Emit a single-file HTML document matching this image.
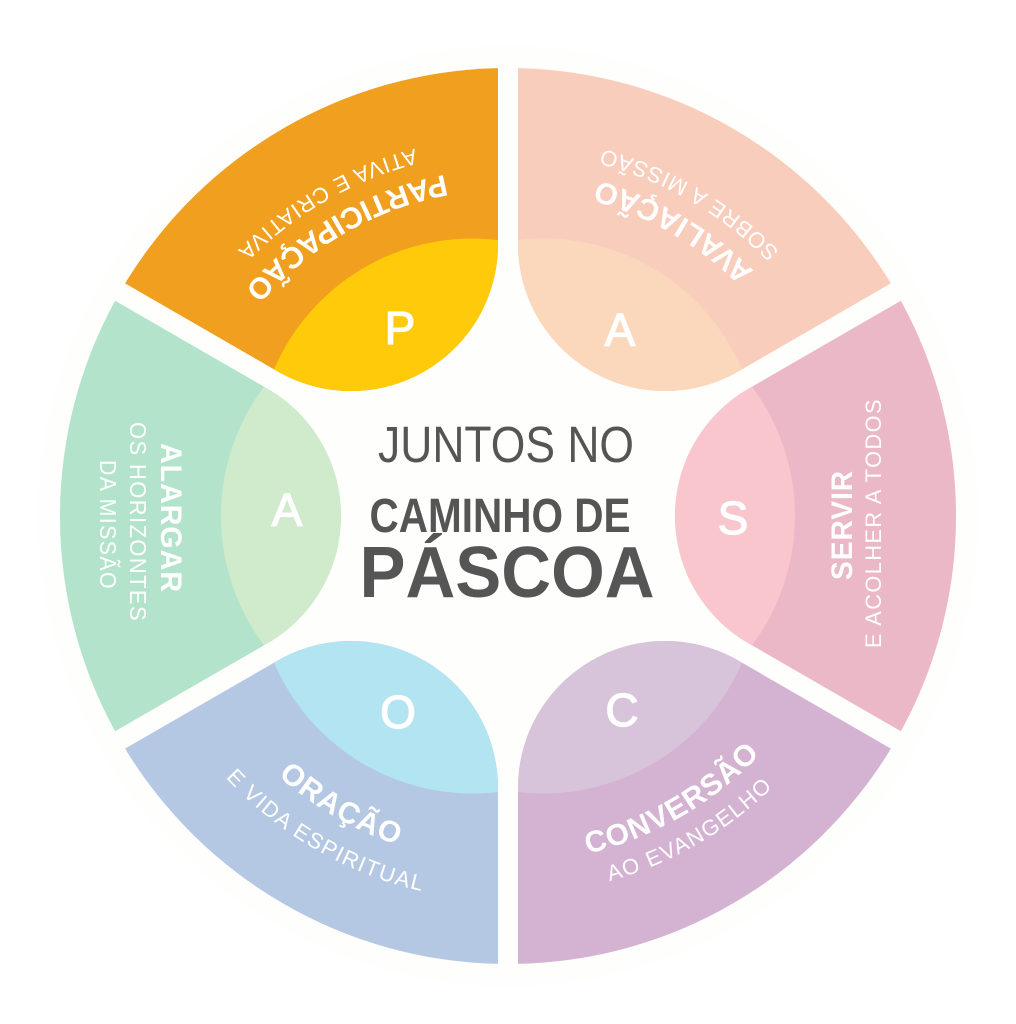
<!DOCTYPE html>
<html><head><meta charset="utf-8"><style>
html,body{margin:0;padding:0;background:#fff;}
svg{display:block;}
text{font-family:"Liberation Sans",sans-serif;fill:#fff;}
.b{font-weight:bold;font-size:30px;letter-spacing:1px;}
.s{font-size:22px;letter-spacing:1.5px;}
.L{font-size:46px;text-anchor:middle;dominant-baseline:central;stroke:#fff;stroke-width:1.2px;}
</style></head><body>
<svg width="1016" height="1024" viewBox="0 0 1016 1024" xmlns="http://www.w3.org/2000/svg">
<defs>
<path id="sec" d="M240.5,-127.3 L392.9,-215.3 A448,448 0 0 1 392.9,215.3 L240.5,127.3 A147,147 0 0 1 240.5,-127.3 Z"/>
<clipPath id="cp"><use href="#sec"/></clipPath>
<path id="tP1" d="M681.5,215.5 A347,347 0 0 0 161,516"/>
<path id="tP2" d="M697.5,187.8 A379,379 0 0 0 129,516"/>
<path id="tA1" d="M855,516 A347,347 0 0 0 334.5,215.5"/>
<path id="tA2" d="M887,516 A379,379 0 0 0 318.5,187.8"/>
<path id="tO1" d="M161,516 A347,347 0 0 0 681.5,816.5"/>
<path id="tO2" d="M123,516 A385,385 0 0 0 700.5,849.4"/>
<path id="tC1" d="M334.5,816.5 A347,347 0 0 0 855,516"/>
<path id="tC2" d="M318.5,844.2 A379,379 0 0 0 887,516"/>
</defs>
<circle cx="508" cy="516" r="470" fill="#fefefc"/>
<g transform="translate(508,516)">
 <g transform="rotate(-120)"><use href="#sec" fill="#F0A01E"/><circle cx="71" cy="0" r="216" fill="#FFCA0A" clip-path="url(#cp)"/></g>
 <g transform="rotate(-60)"><use href="#sec" fill="#F9CDBC"/><circle cx="71" cy="0" r="216" fill="#FBD8BC" clip-path="url(#cp)"/></g>
 <g transform="rotate(0)"><use href="#sec" fill="#EBB8C8"/><circle cx="71" cy="0" r="216" fill="#F8C6CC" clip-path="url(#cp)"/></g>
 <g transform="rotate(60)"><use href="#sec" fill="#D3B3D1"/><circle cx="71" cy="0" r="216" fill="#D8C4DA" clip-path="url(#cp)"/></g>
 <g transform="rotate(120)"><use href="#sec" fill="#B5C8E3"/><circle cx="71" cy="0" r="216" fill="#B2E4F2" clip-path="url(#cp)"/></g>
 <g transform="rotate(180)"><use href="#sec" fill="#B3E4CB"/><circle cx="71" cy="0" r="216" fill="#D0EBCC" clip-path="url(#cp)"/></g>
</g>
<text class="L" x="400" y="328">P</text>
<text class="L" x="620" y="330">A</text>
<text class="L" x="733" y="518">S</text>
<text class="L" x="622" y="710">C</text>
<text class="L" x="398" y="712">O</text>
<text class="L" x="287" y="510">A</text>
<text class="b"><textPath href="#tP1" startOffset="50%" text-anchor="middle">PARTICIPAÇÃO</textPath></text>
<text class="s"><textPath href="#tP2" startOffset="50%" text-anchor="middle">ATIVA E CRIATIVA</textPath></text>
<text class="b"><textPath href="#tA1" startOffset="50%" text-anchor="middle">AVALIAÇÃO</textPath></text>
<text class="s"><textPath href="#tA2" startOffset="50%" text-anchor="middle">SOBRE A MISSÃO</textPath></text>
<text class="b"><textPath href="#tO1" startOffset="50%" text-anchor="middle">ORAÇÃO</textPath></text>
<text class="s"><textPath href="#tO2" startOffset="50%" text-anchor="middle">E VIDA ESPIRITUAL</textPath></text>
<text class="b"><textPath href="#tC1" startOffset="50%" text-anchor="middle">CONVERSÃO</textPath></text>
<text class="s"><textPath href="#tC2" startOffset="50%" text-anchor="middle">AO EVANGELHO</textPath></text>
<text class="b" transform="translate(161,518) rotate(90)" text-anchor="middle" textLength="150" lengthAdjust="spacingAndGlyphs">ALARGAR</text>
<text class="s" transform="translate(130,522) rotate(90)" text-anchor="middle" style="font-size:23px" textLength="200" lengthAdjust="spacingAndGlyphs">OS HORIZONTES</text>
<text class="s" transform="translate(100,525) rotate(90)" text-anchor="middle" style="font-size:23px" textLength="130" lengthAdjust="spacingAndGlyphs">DA MISSÃO</text>
<text class="b" transform="translate(852,525) rotate(-90)" text-anchor="middle" textLength="110" lengthAdjust="spacingAndGlyphs">SERVIR</text>
<text class="s" transform="translate(881,523) rotate(-90)" text-anchor="middle" style="font-size:22px" textLength="250" lengthAdjust="spacingAndGlyphs">E ACOLHER A TODOS</text>
<text x="506" y="462" text-anchor="middle" style="fill:#555;font-size:51px" textLength="256" lengthAdjust="spacingAndGlyphs">JUNTOS NO</text>
<text x="500" y="532" text-anchor="middle" style="fill:#555;font-size:48px;font-weight:bold" textLength="261" lengthAdjust="spacingAndGlyphs">CAMINHO DE</text>
<text x="507" y="597" text-anchor="middle" style="fill:#555;font-size:72px;font-weight:bold" textLength="295" lengthAdjust="spacingAndGlyphs">PÁSCOA</text>
</svg>
</body></html>
